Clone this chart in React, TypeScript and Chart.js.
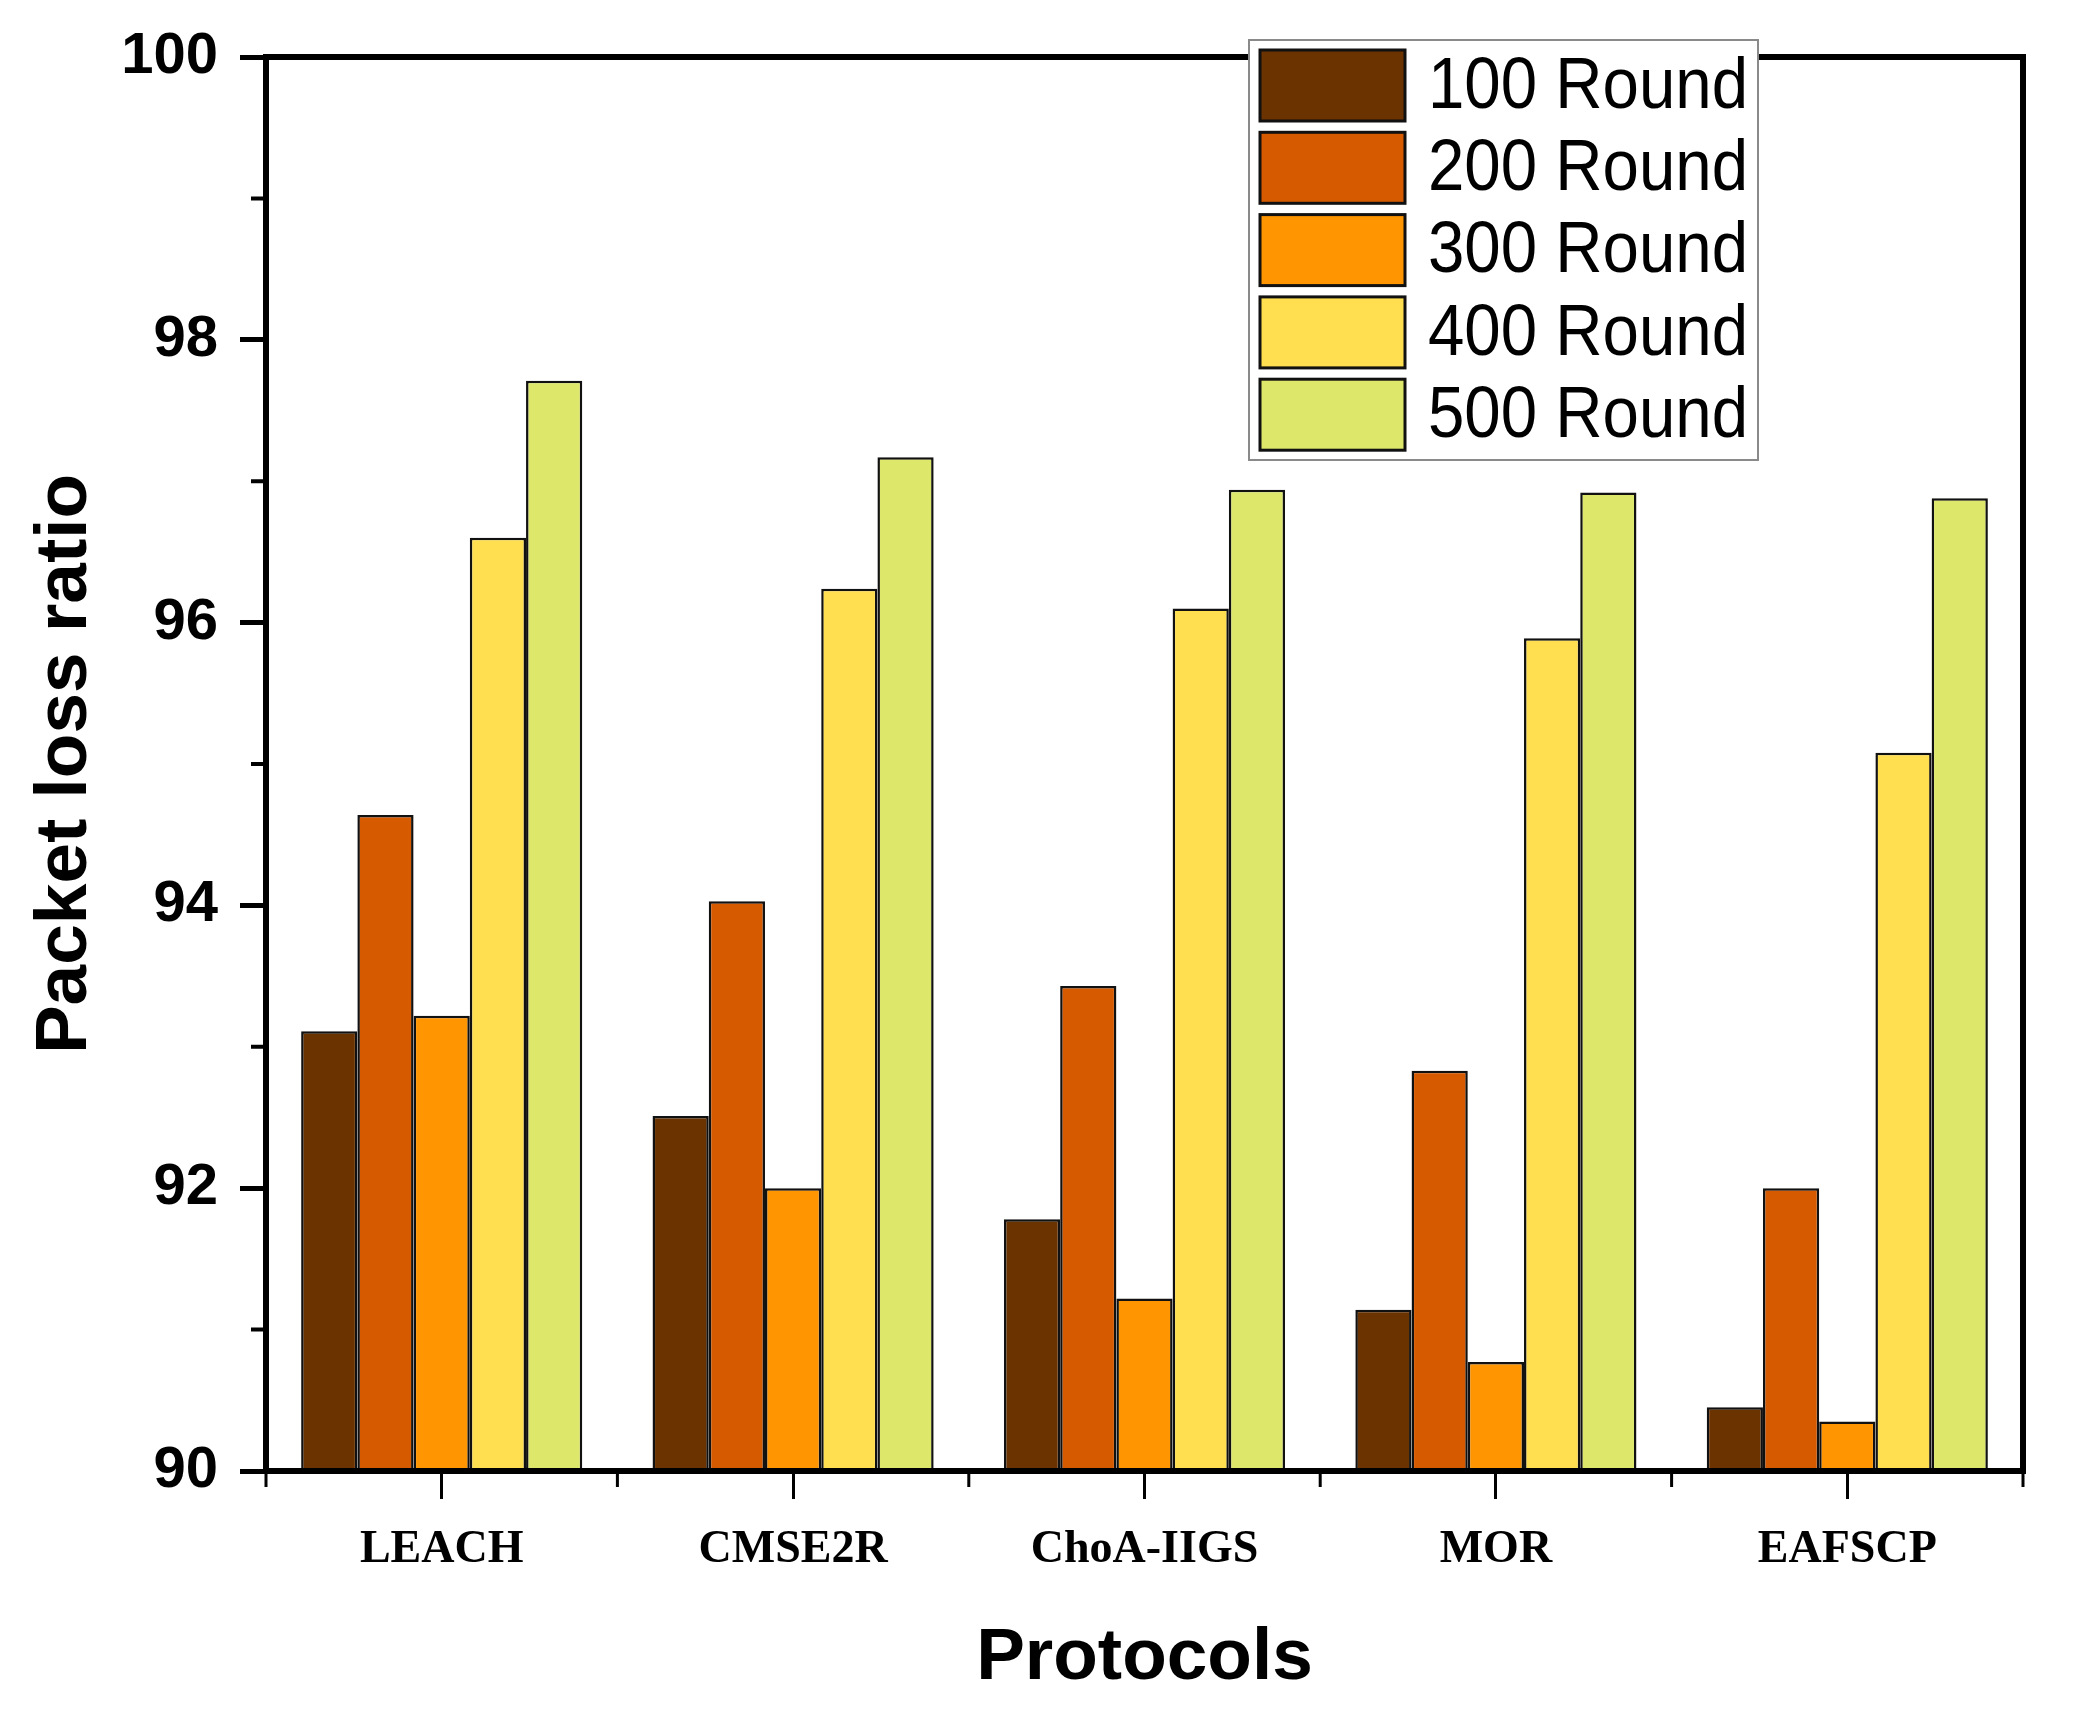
import { useEffect, useRef } from "react";
import { Chart, registerables } from "chart.js";

Chart.register(...registerables);

const categories = ["LEACH", "CMSE2R", "ChoA-IIGS", "MOR", "EAFSCP"];
const seriesLabels = ["100 Round", "200 Round", "300 Round", "400 Round", "500 Round"];
const round100 = [93.11, 92.51, 91.78, 91.14, 90.45];
const round200 = [94.64, 94.03, 93.43, 92.83, 92.0];
const round300 = [93.22, 92.0, 91.22, 90.77, 90.35];
const round400 = [96.6, 96.24, 96.1, 95.89, 95.08];
const round500 = [97.71, 97.17, 96.94, 96.92, 96.88];
const yMin = 90;
const yMax = 100;
const yStep = 2;

const colors = ["#6B3300", "#D65A00", "#FF9500", "#FFDF50", "#DDE86B"];

// frame, minor ticks and the boxed legend on top of the plot
const framePlugin = {
  id: "frame",
  afterDatasetsDraw(chart: any) {
    const { ctx, chartArea: a, scales } = chart;
    ctx.save();
    ctx.strokeStyle = "#000";
    ctx.lineWidth = 6;
    ctx.lineJoin = "miter";
    ctx.strokeRect(a.left, a.top, a.right - a.left, a.bottom - a.top);

    // minor y ticks
    const y = scales.y;
    ctx.lineWidth = 4;
    ctx.beginPath();
    for (let v = yMin + 1; v < yMax; v += yStep) {
      const py = y.getPixelForValue(v);
      ctx.moveTo(a.left, py);
      ctx.lineTo(a.left - 15, py);
    }
    ctx.stroke();
    // minor x ticks on category boundaries
    const x = scales.x;
    const half = (x.getPixelForValue(1) - x.getPixelForValue(0)) / 2;
    ctx.lineWidth = 3;
    ctx.beginPath();
    for (let i = 0; i <= categories.length; i++) {
      const px = x.getPixelForValue(i) - half;
      ctx.moveTo(px, a.bottom);
      ctx.lineTo(px, a.bottom + 16);
    }
    ctx.stroke();
    ctx.restore();
  },
  afterDraw(chart: any) {
    const { ctx } = chart;
    const boxX = 1249;
    const boxY = 40;
    const boxW = 509;
    const boxH = 420;
    ctx.save();
    ctx.fillStyle = "#fff";
    ctx.fillRect(boxX, boxY, boxW, boxH);
    ctx.strokeStyle = "#8a8a8a";
    ctx.lineWidth = 2;
    ctx.strokeRect(boxX, boxY, boxW, boxH);
    ctx.font = "72px 'Liberation Sans', Arial, sans-serif";
    ctx.textBaseline = "middle";
    chart.data.datasets.forEach((ds: any, i: number) => {
      const top = 50 + i * 82.3;
      ctx.fillStyle = ds.backgroundColor;
      ctx.fillRect(1260, top, 145, 71);
      ctx.strokeStyle = "#111";
      ctx.lineWidth = 3;
      ctx.strokeRect(1260, top, 145, 71);
      ctx.fillStyle = "#000";
      ctx.fillText(ds.label, 1428, top + 38, 320);
    });
    ctx.restore();
  },
};

export default function App() {
  const canvasRef = useRef<HTMLCanvasElement>(null);

  useEffect(() => {
    document.body.style.margin = "0";
    if (!canvasRef.current) return;
    const series = [round100, round200, round300, round400, round500];
    const chart = new Chart(canvasRef.current, {
      type: "bar",
      data: {
        labels: categories,
        datasets: series.map((data, i) => ({
          label: seriesLabels[i],
          data,
          backgroundColor: colors[i],
          borderColor: "#111",
          borderWidth: 2.5,
          barPercentage: 1,
          categoryPercentage: 0.8,
        })),
      },
      plugins: [framePlugin],
      options: {
        animation: false,
        responsive: false,
        devicePixelRatio: 1,
        layout: { padding: { left: 0, top: 57, right: 50, bottom: 0 } },
        plugins: { legend: { display: false }, tooltip: { enabled: false } },
        scales: {
          x: {
            afterFit: (s: any) => {
              s.height = 253;
            },
            grid: {
              offset: false,
              drawOnChartArea: false,
              tickLength: 28,
              tickWidth: 3,
              tickColor: "#000",
            },
            border: { display: false },
            ticks: {
              padding: 24,
              color: "#000",
              font: { family: "'Liberation Serif', 'Times New Roman', serif", size: 46, weight: "bold" },
            },
            title: {
              display: true,
              text: "Protocols",
              color: "#000",
              padding: { top: 0, bottom: 21 },
              font: { family: "'Liberation Sans', Arial, sans-serif", size: 73, weight: "bold", lineHeight: 1.2 },
            },
          },
          y: {
            min: yMin,
            max: yMax,
            afterFit: (s: any) => {
              s.width = 266;
            },
            grid: {
              drawOnChartArea: false,
              tickLength: 26,
              tickWidth: 5,
              tickColor: "#000",
            },
            border: { display: false },
            ticks: {
              stepSize: yStep,
              padding: 22,
              color: "#000",
              font: { family: "'Liberation Sans', Arial, sans-serif", size: 58, weight: "bold" },
            },
            title: {
              display: true,
              text: "Packet loss ratio",
              color: "#000",
              padding: { top: 22, bottom: 0 },
              font: { family: "'Liberation Sans', Arial, sans-serif", size: 73, weight: "bold", lineHeight: 1.2 },
            },
          },
        },
      },
    });
    return () => chart.destroy();
  }, []);

  return (
    <div style={{ width: 2073, height: 1724, background: "#fff" }}>
      <canvas ref={canvasRef} width={2073} height={1724} />
    </div>
  );
}
